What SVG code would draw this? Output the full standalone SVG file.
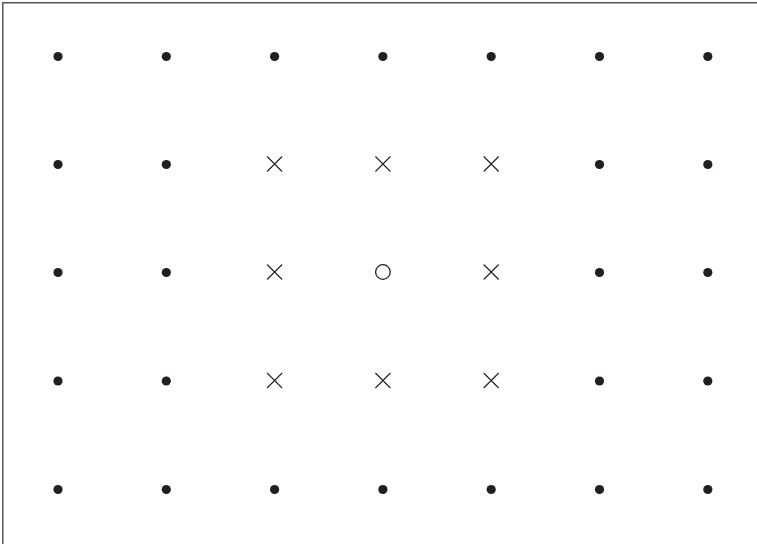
<svg xmlns="http://www.w3.org/2000/svg" width="757" height="544" viewBox="0 0 757 544">
<style>
.frame{fill:none;stroke:#555;stroke-width:1.5}
.dot{fill:#231f20}
.x{stroke:#231f20;stroke-width:1.1;fill:none}
.o{stroke:#231f20;stroke-width:1.3;fill:none}
</style>
<defs>
<circle id="d" r="4.6" class="dot"/>
<path id="cross" d="M-7.5,-7.5L7.5,7.5M-7.5,7.5L7.5,-7.5" class="x"/>
</defs>
<rect width="757" height="544" fill="#fff"/>
<path class="frame" d="M2.75,544V2.75H757"/>
<g id="row1">
<use href="#d" x="58" y="56.5"/><use href="#d" x="166.3" y="56.5"/><use href="#d" x="274.6" y="56.5"/><use href="#d" x="382.9" y="56.5"/><use href="#d" x="491.2" y="56.5"/><use href="#d" x="599.5" y="56.5"/><use href="#d" x="707.8" y="56.5"/>
</g>
<g id="row2">
<use href="#d" x="58" y="164.5"/><use href="#d" x="166.3" y="164.5"/><use href="#cross" x="274.6" y="164"/><use href="#cross" x="382.9" y="164"/><use href="#cross" x="491.2" y="164"/><use href="#d" x="599.5" y="164.5"/><use href="#d" x="707.8" y="164.5"/>
</g>
<g id="row3">
<use href="#d" x="58" y="272.5"/><use href="#d" x="166.3" y="272.5"/><use href="#cross" x="274.6" y="272"/><circle id="center" cx="382.9" cy="272" r="7.3" class="o"/><use href="#cross" x="491.2" y="272"/><use href="#d" x="599.5" y="272.5"/><use href="#d" x="707.8" y="272.5"/>
</g>
<g id="row4">
<use href="#d" x="58" y="381"/><use href="#d" x="166.3" y="381"/><use href="#cross" x="274.6" y="380.5"/><use href="#cross" x="382.9" y="380.5"/><use href="#cross" x="491.2" y="380.5"/><use href="#d" x="599.5" y="381"/><use href="#d" x="707.8" y="381"/>
</g>
<g id="row5">
<use href="#d" x="58" y="489.5"/><use href="#d" x="166.3" y="489.5"/><use href="#d" x="274.6" y="489.5"/><use href="#d" x="382.9" y="489.5"/><use href="#d" x="491.2" y="489.5"/><use href="#d" x="599.5" y="489.5"/><use href="#d" x="707.8" y="489.5"/>
</g>
</svg>
